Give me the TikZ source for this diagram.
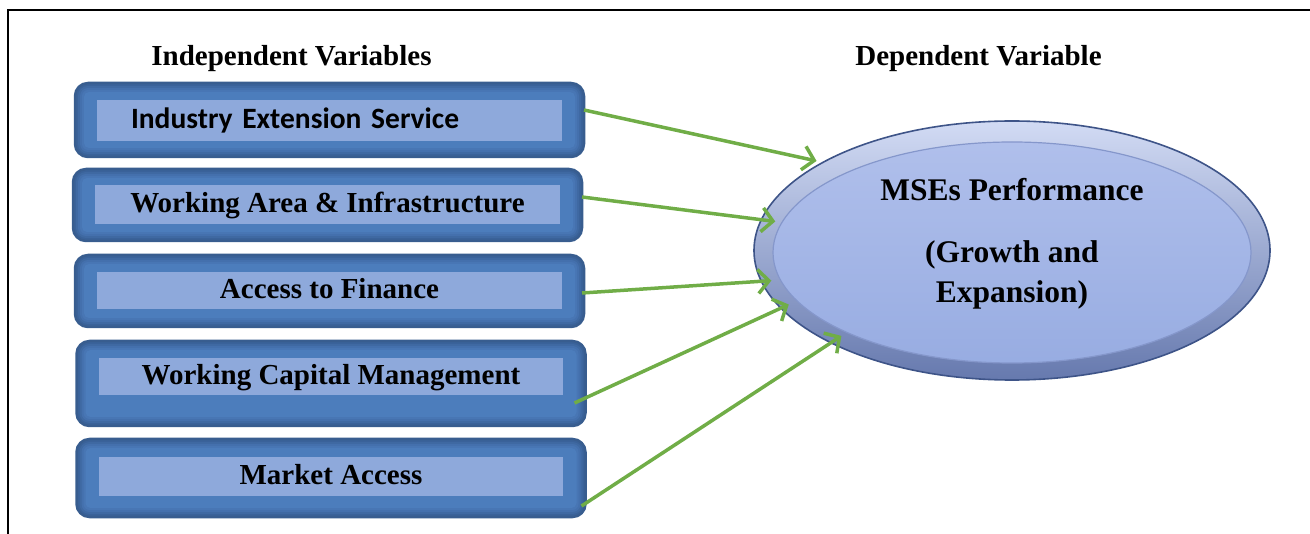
\documentclass[tikz,border=0pt]{standalone}
\usepackage{fontspec}
\setmainfont{Liberation Serif}
\newfontfamily\calibrifont{Carlito}
\usetikzlibrary{arrows.meta,shapes.geometric,calc}

% palette
\definecolor{boxedge}{HTML}{385D8F}
\definecolor{boxrim}{HTML}{3A6299}
\definecolor{boxa}{HTML}{3F69A2}
\definecolor{boxb}{HTML}{4470AD}
\definecolor{boxc}{HTML}{4876B4}
\definecolor{boxd}{HTML}{4C7DBC}
\definecolor{labelblue}{HTML}{8EA9DB}
\definecolor{arrowgreen}{HTML}{70AD47}
\definecolor{ellrim}{HTML}{3E5488}
\definecolor{ellbandtop}{HTML}{D2DBF4}
\definecolor{ellbandmid}{HTML}{A9B8E6}
\definecolor{ellbandbot}{HTML}{6679AE}
\definecolor{ellinnertop}{HTML}{B2C1EC}
\definecolor{ellinnerbot}{HTML}{96ABE1}
\definecolor{ellring}{HTML}{8597CB}

\begin{document}
\begin{tikzpicture}[x=1pt,y=-1pt,
  title/.style={font=\fontsize{29}{34}\selectfont\bfseries, inner sep=0pt},
  varbox/.style={rectangle, rounded corners=13pt, fill=boxrim, draw=boxedge,
    line width=2.5pt, inner sep=0pt, outer sep=0pt,
    path picture={
      \foreach \d/\c/\r in {3/boxa/10,5/boxb/8,7/boxc/6,9/boxd/5}{
        \fill[\c, rounded corners=\r pt]
          ([shift={(\d pt,-\d pt)}]path picture bounding box.north west) rectangle
          ([shift={(-\d pt,\d pt)}]path picture bounding box.south east);
      }
    }},
  varlabel/.style={rectangle, fill=labelblue, inner sep=0pt,
    font=\fontsize{29}{34}\selectfont\bfseries, text height=21pt, text depth=5pt},
  perf/.style={ellipse, minimum width=516pt, minimum height=259pt,
    inner sep=0pt, outer sep=0pt, draw=ellrim, line width=1.6pt,
    top color=ellbandtop, middle color=ellbandmid, bottom color=ellbandbot,
    path picture={
      \shade[top color=ellinnertop, bottom color=ellinnerbot]
        ([yshift=-2pt]path picture bounding box.center)
        ellipse [x radius=239pt, y radius=110.5pt];
      \draw[ellring, line width=1.2pt]
        ([yshift=-2pt]path picture bounding box.center)
        ellipse [x radius=239pt, y radius=110.5pt];
    }},
  perftext/.style={font=\fontsize{31.5}{40}\selectfont\bfseries, align=center, inner sep=0pt},
  link/.style={draw=arrowgreen, line width=3.5pt, -{Straight Barb[length=11pt,width=24pt]}}
]
\useasboundingbox (0,0) rectangle (1310,534);

% frame
\draw[line width=2pt] (8,534) -- (8,10) -- (1310,10);

% headings
\node[title] (indep) at (291.5,59) {Independent Variables};
\node[title] (dep) at (978.5,59) {Dependent Variable};

% independent variable boxes
\node[varbox, minimum width=509pt, minimum height=74pt] (b1) at (329.5,120) {};
\node[varbox, minimum width=509pt, minimum height=72pt] (b2) at (327.5,205) {};
\node[varbox, minimum width=509pt, minimum height=72pt] (b3) at (329.5,291) {};
\node[varbox, minimum width=509pt, minimum height=85pt] (b4) at (331,383.5) {};
\node[varbox, minimum width=509pt, minimum height=78pt] (b5) at (331,478) {};

\node[varlabel, minimum height=41pt, text width=465pt, align=left] (l1) at (329.5,120.5)
  {\hspace*{34pt}\calibrifont\fontsize{29.5}{34}\selectfont\bfseries Industry Extension Service};
\node[varlabel, minimum width=465pt, minimum height=39pt] (l2) at (327.5,204.5) {Working Area \& Infrastructure};
\node[varlabel, minimum width=465pt, minimum height=37pt] (l3) at (329.5,290.5) {Access to Finance};
\node[varlabel, minimum width=464pt, minimum height=37pt] (l4) at (331,376.5) {Working Capital Management};
\node[varlabel, minimum width=464pt, minimum height=39pt] (l5) at (331,476.5) {Market Access};

% dependent variable
\node[perf] (perf) at (1012,250.5) {};
\node[perftext] (perftxt) at (1012,244) {MSEs Performance\\[22pt](Growth and\\Expansion)};

% influences
\draw[link, shorten >=6.6pt] ($(b1.east)+(0,-10)$) -- (perf.155.5);
\draw[link, shorten >=-14pt] ($(b2.east)+(0,-8)$) -- (perf.173);
\draw[link, shorten >=-10pt] ($(b3.east)+(-2,2)$) -- (perf.187.2);
\draw[link, shorten >=-8.6pt] ($(b4.east)+(-11,19.5)$) -- (perf.194.4);
\draw[link, shorten >=-12.5pt] ($(b5.east)+(-4,28)$) -- (perf.207.2);
\end{tikzpicture}
\end{document}
